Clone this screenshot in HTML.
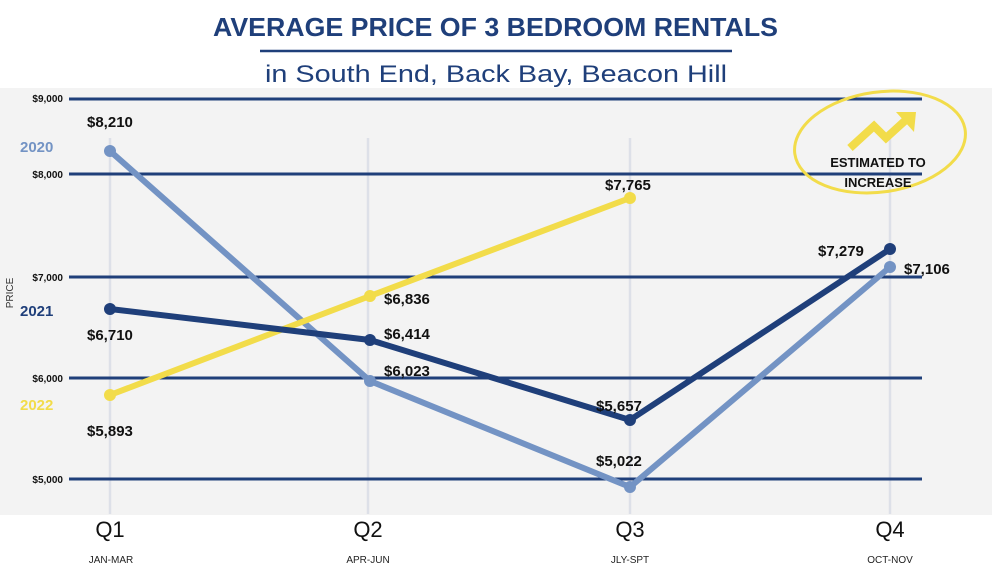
<!DOCTYPE html>
<html><head><meta charset="utf-8"><style>
body{margin:0;width:992px;height:571px;background:#fff;overflow:hidden}
svg{display:block}
text{font-family:"Liberation Sans",sans-serif}
</style></head><body>
<svg width="992" height="571" viewBox="0 0 992 571">
<rect x="0" y="88" width="992" height="427" fill="#f3f3f3"/>
<text x="213" y="36" textLength="565" lengthAdjust="spacingAndGlyphs" font-size="26" font-weight="bold" fill="#1f3f7a">AVERAGE PRICE OF 3 BEDROOM RENTALS</text>
<line x1="260" y1="51" x2="732" y2="51" stroke="#1f3f7a" stroke-width="2.5"/>
<text x="265" y="82" textLength="462" lengthAdjust="spacingAndGlyphs" font-size="24" fill="#1f3f7a">in South End, Back Bay, Beacon Hill</text>
<g stroke="#dde0e8" stroke-width="2.5">
<line x1="110" y1="138" x2="110" y2="514"/><line x1="368" y1="138" x2="368" y2="514"/>
<line x1="630" y1="138" x2="630" y2="514"/><line x1="890" y1="138" x2="890" y2="514"/>
</g>
<g stroke="#1f3f7a" stroke-width="3">
<line x1="69" y1="99" x2="922" y2="99"/><line x1="69" y1="174" x2="922" y2="174"/>
<line x1="69" y1="277" x2="922" y2="277"/><line x1="69" y1="378" x2="922" y2="378"/>
<line x1="69" y1="479" x2="922" y2="479"/>
</g>
<g font-size="10" font-weight="bold" fill="#111" text-anchor="end">
<text x="63" y="102">$9,000</text><text x="63" y="178">$8,000</text>
<text x="63" y="281">$7,000</text><text x="63" y="382">$6,000</text><text x="63" y="483">$5,000</text>
</g>
<text x="13" y="293" font-size="10" fill="#333" transform="rotate(-90 13 293)" text-anchor="middle">PRICE</text>
<text x="20" y="152" font-size="15" font-weight="bold" fill="#7393c4">2020</text>
<text x="20" y="316" font-size="15" font-weight="bold" fill="#1f3f7a">2021</text>
<text x="20" y="410" font-size="15" font-weight="bold" fill="#f2dc4a">2022</text>
<g fill="none" stroke-width="6" stroke-linejoin="round">
<polyline points="110,151 370,381 630,487 890,267" stroke="#7393c4"/>
<polyline points="110,395 370,296 630,198" stroke="#f2dc4a"/>
<polyline points="110,309 370,340 630,420 890,249" stroke="#1f3f7a"/>
</g>
<g fill="#7393c4"><circle cx="110" cy="151" r="6"/><circle cx="370" cy="381" r="6"/><circle cx="630" cy="487" r="6"/><circle cx="890" cy="267" r="6"/></g>
<g fill="#f2dc4a"><circle cx="110" cy="395" r="6"/><circle cx="370" cy="296" r="6"/><circle cx="630" cy="198" r="6"/></g>
<g fill="#1f3f7a"><circle cx="110" cy="309" r="6"/><circle cx="370" cy="340" r="6"/><circle cx="630" cy="420" r="6"/><circle cx="890" cy="249" r="6"/></g>
<g font-size="15" font-weight="bold" fill="#111">
<text x="87" y="127">$8,210</text><text x="87" y="340">$6,710</text><text x="87" y="436">$5,893</text>
<text x="384" y="304">$6,836</text><text x="384" y="339">$6,414</text><text x="384" y="376">$6,023</text>
<text x="605" y="190">$7,765</text><text x="596" y="411">$5,657</text><text x="596" y="466">$5,022</text>
<text x="818" y="256">$7,279</text><text x="904" y="274">$7,106</text>
</g>
<ellipse cx="880" cy="142" rx="86" ry="50" fill="none" stroke="#f2dc4a" stroke-width="3" transform="rotate(-8 880 142)"/>
<polyline points="850,148 874,126 886,138 908,118" fill="none" stroke="#f2dc4a" stroke-width="8"/>
<polygon points="896,112 916,112 914,132" fill="#f2dc4a"/>
<text x="878" y="167" text-anchor="middle" font-size="13" font-weight="bold" fill="#111">ESTIMATED TO</text>
<text x="878" y="187" text-anchor="middle" font-size="13" font-weight="bold" fill="#111">INCREASE</text>
<g font-size="22" fill="#111" text-anchor="middle">
<text x="110" y="537">Q1</text><text x="368" y="537">Q2</text><text x="630" y="537">Q3</text><text x="890" y="537">Q4</text>
</g>
<g font-size="10" fill="#222" text-anchor="middle">
<text x="111" y="563">JAN-MAR</text><text x="368" y="563">APR-JUN</text><text x="630" y="563">JLY-SPT</text><text x="890" y="563">OCT-NOV</text>
</g>
</svg>
</body></html>
